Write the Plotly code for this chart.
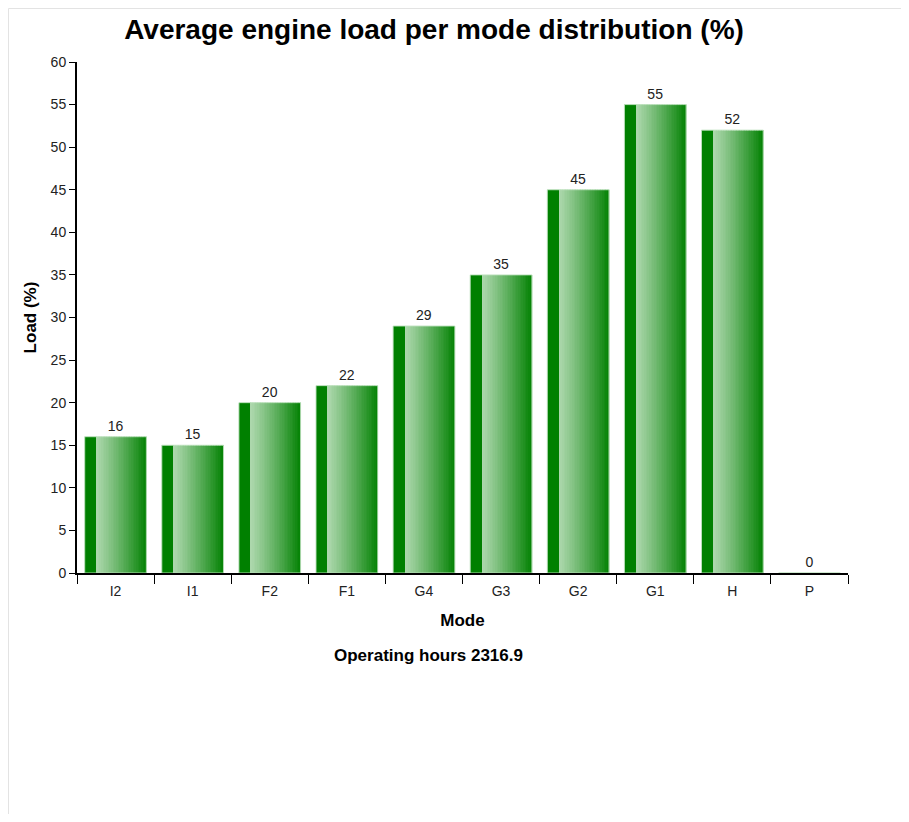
import plotly.graph_objects as go

# ---- data ----
modes = ["I2", "I1", "F2", "F1", "G4", "G3", "G2", "G1", "H", "P"]
load_pct = [16, 15, 20, 22, 29, 35, 45, 55, 52, 0]
y_ticks = [0, 5, 10, 15, 20, 25, 30, 35, 40, 45, 50, 55, 60]
title_text = "Average engine load per mode distribution (%)"
x_title = "Mode"
y_title = "Load (%)"
subtitle = "Operating hours 2316.9"

FONT = "Liberation Sans, Arial, sans-serif"
OFF = 8  # page body margin
W, H = 909 - 2 * OFF, 822 - 2 * OFF
L = 77 - OFF
T = 62 - OFF
R = W - (848 - OFF)
B = H - (573 - OFF)

fig = go.Figure()

BAR_W = 0.8
DARK_W = 0.155
dark = (0, 128, 0)
light = (172, 215, 172)
end = (8, 132, 8)

def rgb(c):
    return "rgb(%d,%d,%d)" % c

# dark left strip
fig.add_trace(go.Bar(x=modes, y=load_pct, width=DARK_W, offset=-BAR_W / 2,
                     marker=dict(color=rgb(dark), line=dict(width=0)),
                     hoverinfo="skip", showlegend=False))
# gradient strips
N = 30
grad_w = BAR_W - DARK_W
sw = grad_w / N
for i in range(N):
    t = (i / (N - 1)) ** 1.1
    c = tuple(int(round(light[k] + (end[k] - light[k]) * t)) for k in range(3))
    fig.add_trace(go.Bar(x=modes, y=load_pct, width=sw * 1.15,
                         offset=-BAR_W / 2 + DARK_W + i * sw,
                         marker=dict(color=rgb(c), line=dict(width=0)),
                         hoverinfo="skip", showlegend=False))
# outline + labels
fig.add_trace(go.Bar(x=modes, y=load_pct, width=BAR_W, offset=-BAR_W / 2,
                     marker=dict(color="rgba(0,0,0,0)",
                                 line=dict(color="rgba(190,225,190,0.9)", width=1)),
                     text=[str(v) for v in load_pct], textposition="outside",
                     textfont=dict(size=14, color="#222", family=FONT),
                     cliponaxis=False, showlegend=False,
                     hovertemplate="%{x}: %{y}%<extra></extra>"))

pw = W - L - R
ph = H - T - B

def px_x(sx):
    return (sx - OFF - L) / pw

def px_y(sy):
    return 1 - (sy - OFF - T) / ph

fig.update_layout(
    width=W, height=H,
    margin=dict(l=L, r=R, t=T, b=B, autoexpand=False),
    barmode="overlay",
    paper_bgcolor="white", plot_bgcolor="white",
    font=dict(family=FONT, size=14, color="#222"),
    title=dict(text="<b>" + title_text + "</b>", x=(434 - OFF) / W, xref="container",
               xanchor="center", y=1 - (29 - OFF) / H, yref="container", yanchor="middle",
               font=dict(size=28, color="black", family=FONT)),
    xaxis=dict(showline=True, linecolor="black", linewidth=2,
               ticks="outside", ticklen=9, tickcolor="black", tickwidth=1,
               tickson="boundaries", showgrid=False, zeroline=False,
               ticklabelstandoff=4,
               tickfont=dict(size=14, color="#222"),
               title=dict(text="<b>" + x_title + "</b>", standoff=16,
                          font=dict(size=17, color="black"))),
    yaxis=dict(range=[0, 60], tickvals=y_ticks, showline=True, linecolor="black",
               linewidth=2, ticks="outside", ticklen=6, tickcolor="black",
               tickwidth=1, showgrid=False, zeroline=False,
               tickfont=dict(size=14, color="#222"),
               title=dict(text="<b>" + y_title + "</b>", standoff=10,
                          font=dict(size=17, color="black"))),
    annotations=[dict(text="<b>" + subtitle + "</b>", xref="paper", yref="paper",
                      x=px_x(428), y=px_y(655),
                      xanchor="center", yanchor="middle", showarrow=False,
                      font=dict(size=17, color="black", family=FONT))],
    shapes=[
        dict(type="line", xref="paper", yref="paper",
             x0=px_x(OFF + 0.5), x1=px_x(OFF + 0.5), y0=px_y(822), y1=px_y(OFF + 0.5),
             line=dict(color="#e3e3e3", width=1), layer="below"),
        dict(type="line", xref="paper", yref="paper",
             x0=px_x(OFF + 0.5), x1=px_x(909), y0=px_y(OFF + 0.5), y1=px_y(OFF + 0.5),
             line=dict(color="#e3e3e3", width=1), layer="below"),
    ],
)

fig.write_html("out.html")
